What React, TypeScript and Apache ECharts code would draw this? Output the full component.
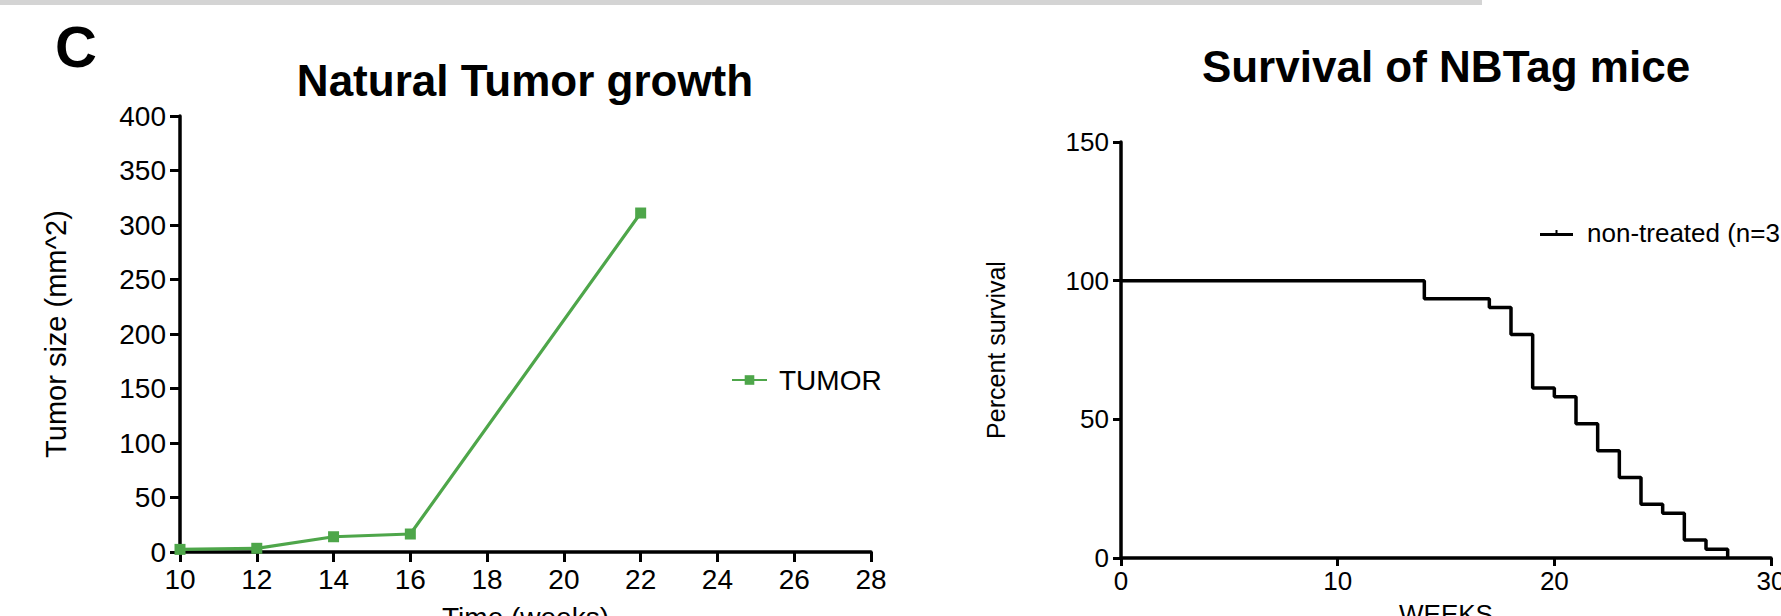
import React, { useEffect, useRef } from "react";
import * as echarts from "echarts";

// ---- data ----
const tumorWeeks = [10, 12, 14, 16, 22];
const tumorSize = [2.4, 3.4, 14, 16.5, 311];

const survivalWeeks = [0, 14, 17, 18, 19, 20, 21, 22, 23, 24, 25, 26, 27, 28];
const survivalPct = [100, 93.5, 90.3, 80.6, 61.3, 58.1, 48.4, 38.7, 29.0, 19.4, 16.1, 6.5, 3.2, 0];

const tumorXRange = [10, 28, 2]; // min, max, interval
const tumorYRange = [0, 400, 50];
const survXRange = [0, 30, 10];
const survYRange = [0, 150, 50];

const tumorName = "TUMOR";
const survName = "non-treated (n=31)";

const FONT = '"Liberation Sans", Arial, Helvetica, sans-serif';
const GREEN = "#4ea64a";

export default function App() {
  const ref = useRef<HTMLDivElement>(null);

  useEffect(() => {
    document.body.style.margin = "0";
    if (!ref.current) return;
    const chart = echarts.init(ref.current, undefined, { renderer: "svg" });

    const axisCommon = (fs: number, margin: number, tickLen: number) => ({
      axisLine: { show: true, onZero: false, lineStyle: { color: "#000", width: 3.5 } },
      axisTick: { show: true, length: tickLen, lineStyle: { color: "#000", width: 3 } },
      axisLabel: { color: "#000", fontSize: fs, fontFamily: FONT, margin },
      splitLine: { show: false },
    });

    const option: any = {
      animation: false,
      backgroundColor: "#ffffff",
      graphic: [
        { type: "rect", shape: { x: 0, y: 0, width: 1482, height: 5 }, style: { fill: "#d4d4d4" } },
        {
          type: "text",
          x: 55,
          y: 46,
          style: { text: "C", fontSize: 58, fontWeight: "bold", fontFamily: FONT, fill: "#000", align: "left", verticalAlign: "middle" },
        },
      ],
      title: [
        {
          text: "Natural Tumor growth",
          left: 525,
          top: 58,
          textAlign: "center",
          padding: 0,
          textStyle: { fontSize: 44, fontWeight: "bold", color: "#000", fontFamily: FONT },
        },
        {
          text: "Survival of NBTag mice",
          left: 1446,
          top: 44,
          textAlign: "center",
          padding: 0,
          textStyle: { fontSize: 44, fontWeight: "bold", color: "#000", fontFamily: FONT },
        },
      ],
      legend: [
        {
          data: [tumorName],
          left: 731,
          top: 366,
          padding: 0,
          itemWidth: 35,
          itemHeight: 12,
          textStyle: { color: "#000", fontSize: 28, fontFamily: FONT, lineHeight: 28, padding: [0, 0, 0, 7] },
        },
        {
          data: [survName],
          left: 1540,
          top: 220,
          padding: 0,
          itemWidth: 33,
          itemHeight: 6,
          icon: "path://M0,5 H33 V8 H0 Z M15.5,2 H17.5 V5 H15.5 Z",
          textStyle: { color: "#000", fontSize: 26, fontFamily: FONT, lineHeight: 26, padding: [0, 0, 0, 9] },
        },
      ],
      grid: [
        { left: 180, right: 910, top: 116, bottom: 64, outerBoundsMode: "none", containLabel: false },
        { left: 1121, right: 10, top: 142, bottom: 58, outerBoundsMode: "none", containLabel: false },
      ],
      xAxis: [
        {
          gridIndex: 0,
          type: "value",
          min: tumorXRange[0],
          max: tumorXRange[1],
          interval: tumorXRange[2],
          name: "Time (weeks)",
          nameLocation: "middle",
          nameGap: 51,
          nameTextStyle: { color: "#000", fontSize: 28, fontFamily: FONT },
          ...axisCommon(28, 13, 10),
        },
        {
          gridIndex: 1,
          type: "value",
          min: survXRange[0],
          max: survXRange[1],
          interval: survXRange[2],
          name: "WEEKS",
          nameLocation: "middle",
          nameGap: 43,
          nameTextStyle: { color: "#000", fontSize: 26, fontFamily: FONT },
          ...axisCommon(26, 10, 8),
        },
      ],
      yAxis: [
        {
          gridIndex: 0,
          type: "value",
          min: tumorYRange[0],
          max: tumorYRange[1],
          interval: tumorYRange[2],
          name: "Tumor size (mm^2)",
          nameLocation: "middle",
          nameRotate: 90,
          nameGap: 110,
          nameTextStyle: { color: "#000", fontSize: 29, fontFamily: FONT },
          ...axisCommon(28, 14, 10),
        },
        {
          gridIndex: 1,
          type: "value",
          min: survYRange[0],
          max: survYRange[1],
          interval: survYRange[2],
          name: "Percent survival",
          nameLocation: "middle",
          nameRotate: 90,
          nameGap: 113,
          nameTextStyle: { color: "#000", fontSize: 25, fontFamily: FONT },
          ...axisCommon(26, 12, 8),
        },
      ],
      series: [
        {
          name: tumorName,
          type: "line",
          xAxisIndex: 0,
          yAxisIndex: 0,
          data: tumorWeeks.map((w, i) => [w, tumorSize[i]]),
          symbol: "rect",
          symbolSize: 11,
          color: GREEN,
          itemStyle: { color: GREEN },
          lineStyle: { color: GREEN, width: 3.2 },
          z: 3,
        },
        {
          name: survName,
          type: "line",
          xAxisIndex: 1,
          yAxisIndex: 1,
          step: "end",
          data: survivalWeeks.map((w, i) => [w, survivalPct[i]]),
          symbol: "none",
          color: "#000",
          itemStyle: { color: "#000" },
          lineStyle: { color: "#000", width: 3.5 },
          z: 3,
        },
      ],
    };

    chart.setOption(option);
    return () => chart.dispose();
  }, []);

  return <div ref={ref} style={{ width: 1781, height: 616 }} />;
}
